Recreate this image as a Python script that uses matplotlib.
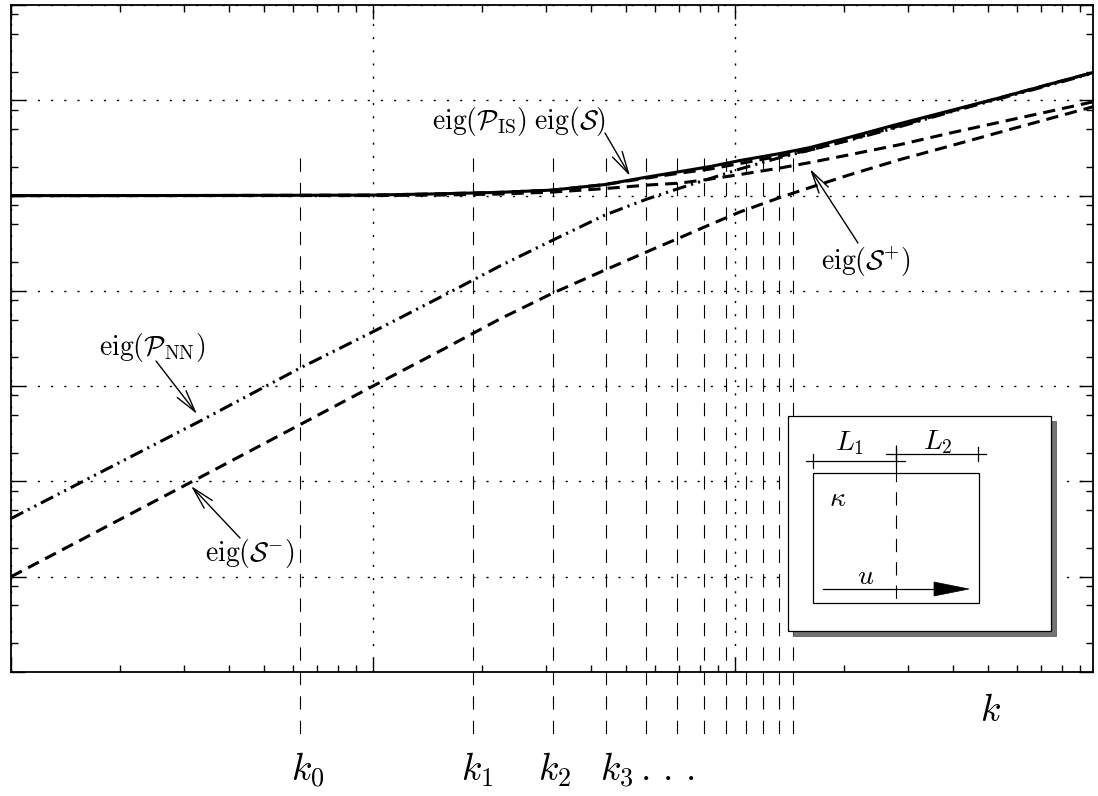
import numpy as np
import matplotlib
matplotlib.use('Agg')
import matplotlib.pyplot as plt
from matplotlib.ticker import LogLocator, NullFormatter
from matplotlib.transforms import Affine2D
from matplotlib.patches import Rectangle, Polygon

plt.rcParams['mathtext.fontset'] = 'cm'
plt.rcParams['font.family'] = ['DejaVu Serif']

# ---- data ----
k = [1.0, 1.76, 3.33, 6.29, 10.0, 15.3, 22.4, 31.4, 43.7, 57.1, 70.5,
     85.3, 103, 133, 161, 208, 286, 393, 540, 742, 975]

eig_P_IS = [1.0e5, 1.0e5, 1.002e5, 1.007e5, 1.012e5, 1.044e5, 1.081e5, 1.142e5,
            1.305e5, 1.563e5, 1.786e5, 2.016e5, 2.33e5, 2.76e5, 3.19e5, 4.11e5,
            5.70e5, 7.78e5, 1.065e6, 1.479e6, 1.954e6]

eig_S = [1.0e5, 1.0e5, 1.002e5, 1.007e5, 1.012e5, 1.044e5, 1.081e5, 1.142e5,
         1.305e5, 1.527e5, 1.722e5, 1.897e5, 2.167e5, 2.596e5, 3.0e5, 3.87e5,
         5.42e5, 7.61e5, 1.065e6, 1.479e6, 1.954e6]

eig_S_plus = [1.0e5, 1.0e5, 1.0e5, 1.0e5, 1.0e5, 1.012e5, 1.037e5, 1.089e5,
              1.184e5, 1.288e5, 1.352e5, 1.489e5, 1.66e5, 1.944e5, 2.22e5,
              2.69e5, 3.43e5, 4.53e5, 5.90e5, 7.67e5, 9.64e5]

eig_P_NN = [40.8, 123.7, 430, 1549, 3723, 8530, 1.82e4, 3.41e4, 6.24e4, 9.19e4,
            1.199e5, 1.508e5, 1.897e5, 2.505e5, 3.0e5, 3.82e5, 5.30e5, 7.52e5,
            1.042e6, 1.445e6, 1.928e6]

eig_S_minus = [10.0, 30.9, 110.4, 395, 1002, 2335, 5058, 9480, 1.652e4, 2.57e4,
               3.62e4, 4.96e4, 6.71e4, 9.53e4, 1.213e5, 1.66e5, 2.39e5, 3.32e5,
               4.63e5, 6.44e5, 8.55e5]

k_lines = [6.3, 18.9, 31.5, 44.1, 56.7, 69.3, 81.9, 94.5, 107.1, 119.7, 132.3, 144.9]
k_labels = [r'$k_0$', r'$k_1$', r'$k_2$', r'$k_3\,.\,.\,.$']

# ---- figure ----
W, H = 1098, 796
fig = plt.figure(figsize=(W / 100, H / 100), dpi=100)
ax = fig.add_axes([11 / W, 1 - 672 / H, (1093 - 11) / W, (672 - 5) / H])
px = Affine2D().scale(1 / W, -1 / H).translate(0, 1) + fig.transFigure

ax.set_xscale('log')
ax.set_yscale('log')
ax.set_xlim(1, 975)
ax.set_ylim(1, 1e7)

lw = 2.2
dash = (4, 2.3)
ax.plot(k, eig_S, color='k', lw=lw, dashes=dash, zorder=3)
ax.plot(k, eig_S_plus, color='k', lw=lw, dashes=dash, zorder=3)
ax.plot(k, eig_S_minus, color='k', lw=lw, dashes=dash, zorder=3)
ax.plot(k, eig_P_NN, color='k', lw=lw, dashes=(4.5, 1.7, 0.7, 1.7, 0.7, 1.7), zorder=3)
ax.plot(k, eig_P_IS, color='k', lw=lw, solid_capstyle='butt', zorder=4)

ax.vlines(k_lines, 0.7706, -0.102, transform=ax.get_xaxis_transform(),
          colors='k', lw=0.8, linestyles=(0, (12, 10)), clip_on=False, zorder=2)

# ticks / grid
ax.xaxis.set_major_locator(LogLocator(base=10, numticks=10))
ax.xaxis.set_minor_locator(LogLocator(base=10, subs=np.arange(2, 10), numticks=20))
ax.yaxis.set_major_locator(LogLocator(base=10, numticks=20))
ax.yaxis.set_minor_locator(LogLocator(base=10, subs=[2, 5, 8], numticks=20))
for a in (ax.xaxis, ax.yaxis):
    a.set_major_formatter(NullFormatter())
    a.set_minor_formatter(NullFormatter())
ax.tick_params(which='both', direction='in', top=True, right=True, width=1, colors='k')
ax.tick_params(which='major', length=10)
ax.tick_params(which='minor', length=5)
ax.grid(True, which='major', color='k', lw=1.0, linestyle=(0, (1.5, 8)))
for s in ax.spines.values():
    s.set_linewidth(1.3)

# annotations
fs = 20
arw = dict(arrowstyle='->,head_length=0.8,head_width=0.2', lw=1, color='k',
           shrinkA=0, shrinkB=0, mutation_scale=20)
ax.text(519, 121, r'$\mathrm{eig}(\mathcal{P}_{\mathrm{IS}})\;\mathrm{eig}(\mathcal{S})$',
        transform=px, ha='center', va='center', fontsize=fs, zorder=6)
ax.annotate('', xy=(630, 176), xytext=(605, 133), xycoords=px, textcoords=px, arrowprops=arw)
ax.text(152, 348, r'$\mathrm{eig}(\mathcal{P}_{\mathrm{NN}})$',
        transform=px, ha='center', va='center', fontsize=fs, zorder=6)
ax.annotate('', xy=(197, 414), xytext=(156, 361), xycoords=px, textcoords=px, arrowprops=arw)
ax.text(250, 554, r'$\mathrm{eig}(\mathcal{S}^{-})$',
        transform=px, ha='center', va='center', fontsize=fs, zorder=6)
ax.annotate('', xy=(191, 486), xytext=(240, 538), xycoords=px, textcoords=px, arrowprops=arw)
ax.text(866, 262, r'$\mathrm{eig}(\mathcal{S}^{+})$',
        transform=px, ha='center', va='center', fontsize=fs, zorder=6)
ax.annotate('', xy=(810, 169), xytext=(858, 243), xycoords=px, textcoords=px, arrowprops=arw)

# k labels
ax.text(980, 721, r'$k$', transform=px, ha='left', va='baseline', fontsize=27)
for lab, x0 in zip(k_labels, [291, 461, 538, 600]):
    ax.text(x0, 781, lab, transform=px, ha='left', va='baseline', fontsize=27)

# inset sketch
ax.add_patch(Rectangle((793, 421), 263, 215, transform=px, fc='0.45', ec='0.3',
                       lw=0.5, zorder=10, clip_on=False))
ax.add_patch(Rectangle((788, 416), 263, 215, transform=px, fc='white', ec='k',
                       lw=0.9, zorder=11, clip_on=False))
ax.add_patch(Rectangle((813, 473), 166, 130, transform=px, fc='none', ec='k',
                       lw=0.9, zorder=12, clip_on=False))
ax.plot([896, 896], [445, 603], transform=px, color='k', lw=0.8, dashes=(12, 9),
        zorder=12, clip_on=False)
ax.plot([806, 905], [461, 461], transform=px, color='k', lw=0.9, zorder=12, clip_on=False)
for xx in (813, 896):
    ax.plot([xx, xx], [454, 468], transform=px, color='k', lw=0.9, zorder=12, clip_on=False)
ax.plot([886, 986], [454, 454], transform=px, color='k', lw=0.9, zorder=12, clip_on=False)
for xx in (896, 978):
    ax.plot([xx, xx], [447, 461], transform=px, color='k', lw=0.9, zorder=12, clip_on=False)
ax.plot([823, 936], [589, 589], transform=px, color='k', lw=0.9, zorder=12, clip_on=False)
ax.add_patch(Polygon([(934, 582), (969, 589), (934, 596)], closed=True, transform=px,
                     fc='k', ec='k', lw=0.5, zorder=12, clip_on=False))
ax.text(850, 443, r'$L_1$', transform=px, ha='center', va='center', fontsize=20, zorder=13)
ax.text(938, 442, r'$L_2$', transform=px, ha='center', va='center', fontsize=20, zorder=13)
ax.text(838, 498, r'$\kappa$', transform=px, ha='center', va='center', fontsize=20, zorder=13)
ax.text(866, 576, r'$u$', transform=px, ha='center', va='center', fontsize=20, zorder=13)

fig.savefig('out.png', dpi=100)
